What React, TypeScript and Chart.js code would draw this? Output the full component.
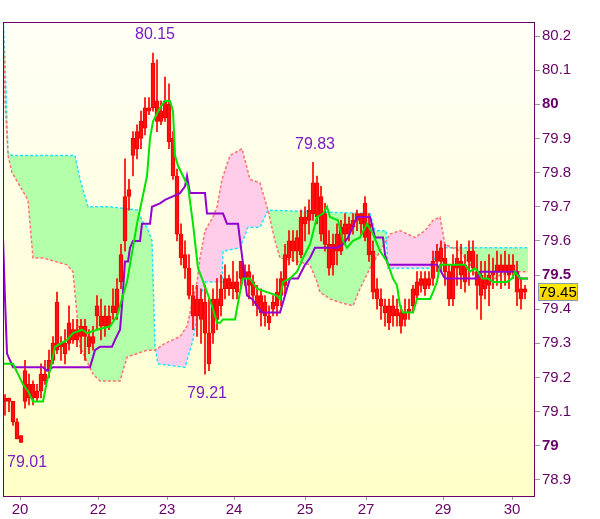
import React, { useEffect, useRef } from 'react';
import { Chart, registerables } from 'chart.js';

Chart.register(...registerables);

// ---- price bars (one per bar index) ----
const opens = [79.13,79.14,79.13,79.07,79.03, 79.13,79.18,79.14,79.16,79.16, 79.19,79.22,79.25,79.28,79.30, 79.30,79.30,79.34,79.31,79.35, 79.32,79.32,79.30,79.38,79.38, 79.35,79.38,79.39,79.39,79.48, 79.60,79.73,79.85,79.87,79.90, 79.93,79.98,79.99,80.01,79.95, 79.96,80.00,79.90,79.79,79.62, 79.56,79.52,79.44,79.38,79.43, 79.42,79.33,79.33,79.43,79.41, 79.46,79.49,79.46,79.48,79.49, 79.51,79.51,79.48,79.44,79.44, 79.42,79.38,79.40,79.41,79.44, 79.47,79.55,79.60,79.57,79.56, 79.65,79.66,79.68,79.77,79.73, 79.68,79.59,79.53,79.57,79.57, 79.62,79.65,79.64,79.66,79.68, 79.61,79.65,79.57,79.46,79.43, 79.41,79.36,79.41,79.38,79.39, 79.37,79.39,79.41,79.44,79.47, 79.49,79.47,79.49,79.54,79.54, 79.55,79.51,79.43,79.55,79.50, 79.53,79.54,79.57,79.51,79.50, 79.46,79.47,79.50,79.51,79.53, 79.51,79.53,79.51,79.51,79.46, 79.46];
const highs = [79.15,79.14,79.13,79.08,79.03, 79.25,79.21,79.19,79.18,79.24, 79.25,79.28,79.32,79.45,79.32, 79.34,79.41,79.37,79.37,79.37, 79.37,79.34,79.35,79.44,79.43, 79.41,79.41,79.46,79.49,79.59, 79.84,79.78,79.92,79.94,79.98, 80.02,80.02,80.15,80.13,80.01, 80.08,80.06,79.92,79.81,79.65, 79.60,79.56,79.47,79.47,79.46, 79.47,79.43,79.46,79.49,79.50, 79.53,79.50,79.54,79.51,79.54, 79.53,79.53,79.50,79.47,79.46, 79.44,79.41,79.44,79.49,79.51, 79.59,79.63,79.63,79.63,79.69, 79.70,79.72,79.83,79.79,79.76, 79.71,79.63,79.62,79.65,79.66, 79.68,79.67,79.68,79.69,79.68, 79.73,79.68,79.60,79.49,79.46, 79.43,79.43,79.44,79.43,79.41, 79.43,79.43,79.47,79.51,79.51, 79.51,79.51,79.57,79.59,79.60, 79.59,79.53,79.56,79.60,79.59, 79.56,79.60,79.60,79.56,79.54, 79.54,79.56,79.55,79.57,79.56, 79.57,79.56,79.56,79.54,79.49, 79.47];
const lows = [79.09,79.10,79.06,79.02,79.01, 79.11,79.12,79.12,79.13,79.14, 79.18,79.20,79.24,79.27,79.25, 79.24,79.28,79.30,79.29,79.27, 79.25,79.27,79.28,79.34,79.31, 79.32,79.34,79.37,79.37,79.46, 79.57,79.69,79.79,79.84,79.87, 79.91,79.97,79.98,79.92,79.94, 79.95,79.87,79.78,79.60,79.53, 79.49,79.43,79.34,79.32,79.30, 79.21,79.22,79.30,79.34,79.38, 79.43,79.44,79.43,79.43,79.46, 79.47,79.43,79.41,79.38,79.35, 79.35,79.34,79.38,79.38,79.41, 79.44,79.53,79.54,79.53,79.55, 79.60,79.62,79.66,79.65,79.60, 79.57,79.50,79.50,79.53,79.56, 79.59,79.60,79.62,79.63,79.62, 79.60,79.54,79.43,79.40,79.37, 79.35,79.34,79.35,79.35,79.33, 79.35,79.37,79.39,79.43,79.45, 79.44,79.46,79.47,79.51,79.51, 79.47,79.41,79.41,79.47,79.46, 79.45,79.47,79.50,79.40,79.37, 79.43,79.41,79.46,79.47,79.46, 79.47,79.46,79.49,79.41,79.40, 79.43];
const closes = [79.14,79.13,79.07,79.02,79.01, 79.22,79.14,79.18,79.14,79.21, 79.21,79.25,79.30,79.42,79.29, 79.27,79.36,79.31,79.34,79.32, 79.35,79.29,79.32,79.41,79.35, 79.38,79.35,79.41,79.46,79.56, 79.73,79.75,79.90,79.92,79.95, 79.99,79.99,80.12,79.95,79.98, 80.01,79.89,79.79,79.62,79.55, 79.52,79.44,79.38,79.43,79.37, 79.33,79.24,79.43,79.37,79.46, 79.49,79.46,79.48,79.45,79.54, 79.49,79.47,79.44,79.41,79.39, 79.38,79.36,79.42,79.45,79.49, 79.56,79.60,79.57,79.61,79.67, 79.67,79.69,79.77,79.67,79.62, 79.59,79.52,79.59,79.62,79.64, 79.65,79.62,79.66,79.68,79.65, 79.71,79.56,79.45,79.43,79.41, 79.39,79.41,79.38,79.40,79.35, 79.39,79.40,79.46,79.48,79.49, 79.46,79.49,79.54,79.57,79.58, 79.51,79.43,79.53,79.52,79.54, 79.48,79.57,79.52,79.47,79.44, 79.49,79.50,79.51,79.53,79.51, 79.53,79.50,79.53,79.45,79.43, 79.45];

// ---- Ichimoku lines: [bar position, price] ----
const senkouA = [[-0.5,80.26],[0,80.13],[0.75,79.86],[1.75,79.85],[17.5,79.85],[18.75,79.78],[20.75,79.70],[26.25,79.70],[33.25,79.69],[34.25,79.66],[35.5,79.64],[36.75,79.60],[37.5,79.29],[38.25,79.24],[45,79.23],[47,79.31],[48.75,79.43],[50,79.48],[54.25,79.48],[54.5,79.57],[58.75,79.58],[60.75,79.64],[63.75,79.64],[65.75,79.69],[91.25,79.68],[92.5,79.63],[95.25,79.63],[95.75,79.52],[107,79.52],[108,79.58],[130.75,79.58]];
const senkouB = [[-0.5,80.26],[0,80.01],[0.75,79.85],[1.75,79.80],[3.75,79.76],[5.75,79.72],[7,79.55],[9.5,79.55],[15.5,79.53],[17,79.51],[18.75,79.29],[22,79.21],[23.75,79.19],[28.75,79.19],[30.5,79.26],[35.5,79.28],[37.5,79.28],[40,79.30],[43.75,79.32],[45.5,79.35],[47,79.43],[48,79.48],[48.75,79.55],[50,79.63],[52,79.67],[53,79.70],[54.25,79.78],[56.25,79.85],[59.25,79.87],[61.25,79.78],[63.75,79.77],[65.75,79.69],[67.5,79.60],[68.75,79.55],[73,79.54],[76.25,79.53],[78,79.48],[78.75,79.45],[81.25,79.43],[83.75,79.42],[87,79.41],[88.75,79.46],[91.25,79.52],[93.75,79.57],[96.25,79.62],[98.75,79.63],[102.5,79.61],[105,79.63],[107,79.66],[108.75,79.67],[110,79.59],[113.75,79.57],[117,79.52],[118.75,79.47],[121.25,79.48],[123.75,79.50],[127.5,79.51],[130.75,79.51]];
const tenkan = [[-0.5,79.24],[2,79.24],[3.25,79.21],[4.5,79.18],[5.75,79.16],[7,79.13],[9.5,79.13],[10.5,79.19],[11.25,79.22],[12.5,79.29],[15.5,79.31],[17,79.33],[19.25,79.34],[20.5,79.33],[23,79.34],[26.25,79.35],[28,79.38],[30.5,79.48],[33,79.65],[35.5,79.79],[36.25,79.90],[37,79.95],[38.75,79.99],[40,80.01],[41.25,80.01],[42,79.98],[42.5,79.85],[43.25,79.82],[44.5,79.79],[45.75,79.76],[47,79.65],[48.25,79.52],[49.25,79.49],[51.75,79.41],[53,79.36],[53.75,79.36],[54.5,79.37],[57.5,79.37],[58.75,79.45],[59.5,79.49],[61.25,79.49],[63,79.46],[65.5,79.45],[68,79.44],[68.75,79.43],[69.5,79.48],[71.25,79.49],[73,79.51],[74.5,79.55],[76.25,79.59],[78,79.67],[79.5,79.68],[80.5,79.70],[81.25,79.67],[83.25,79.66],[84.5,79.60],[85.5,79.58],[87,79.60],[88.75,79.61],[90.5,79.65],[92,79.62],[93.75,79.57],[95.5,79.54],[97,79.49],[98,79.47],[98.75,79.41],[99.5,79.39],[102,79.39],[103,79.43],[106.25,79.43],[107,79.45],[108,79.48],[108.75,79.53],[110.5,79.53],[115,79.53],[116.25,79.51],[117.5,79.52],[118.25,79.51],[119.25,79.49],[120.75,79.49],[122,79.48],[125.5,79.48],[126.75,79.49],[127.5,79.51],[128.75,79.49],[130.75,79.49]];
const kijun = [[-0.5,79.61],[0,79.43],[0.5,79.27],[1.25,79.25],[2,79.23],[9.5,79.23],[10.5,79.22],[12,79.23],[21.25,79.23],[22.5,79.28],[23.75,79.29],[26.75,79.29],[27.5,79.31],[28.75,79.34],[29.25,79.41],[30,79.54],[30.75,79.54],[31.25,79.58],[32,79.60],[33.75,79.60],[34.25,79.65],[36.25,79.65],[36.75,79.70],[38.75,79.71],[40,79.72],[43.75,79.74],[45,79.76],[45.5,79.79],[46.25,79.74],[50,79.74],[50.5,79.68],[54.5,79.68],[55.5,79.65],[58.25,79.65],[60.5,79.44],[61.75,79.43],[64.25,79.39],[68.75,79.39],[71.25,79.49],[73.25,79.49],[75,79.53],[76.25,79.55],[77.5,79.58],[83,79.58],[84.5,79.59],[85.75,79.61],[88,79.67],[91.25,79.67],[92.5,79.61],[94.5,79.61],[95,79.56],[95.75,79.53],[108,79.53],[110,79.49],[118,79.49],[118.75,79.51],[128,79.51],[128.75,79.49],[130.75,79.49]];

// ---- axes ----
const xTickPositions = [3.75, 23.25, 40.5, 57.25, 75, 90.25, 109.5, 126.75];
const xTickLabels = ['20', '22', '23', '24', '25', '27', '29', '30'];
const yTickValues = [78.9, 79.0, 79.1, 79.2, 79.3, 79.4, 79.5, 79.6, 79.7, 79.8, 79.9, 80.0, 80.1, 80.2];

// ---- high / low annotations: bar index + which extreme ----
const markIndex = [37, 77, 50, 4];
const markKind = ['high', 'high', 'low', 'low'];

const FONT = '"Liberation Sans", Arial, sans-serif';

export default function App() {
  const ref = useRef<HTMLCanvasElement>(null);

  useEffect(() => {
    const canvas = ref.current!;
    const idx = closes.map((_, i) => i);
    const pts = (arr: number[][]) => arr.map(([x, y]) => ({ x, y }));

    const bgPlugin = {
      id: 'bgPlugin',
      beforeDraw(chart: any) {
        const { ctx, chartArea: a } = chart;
        ctx.save();
        ctx.fillStyle = '#ffffff';
        ctx.fillRect(0, 0, chart.width, chart.height);
        const g = ctx.createLinearGradient(0, a.top, 0, a.bottom);
        g.addColorStop(0, '#fffff6');
        g.addColorStop(1, '#ffffc8');
        ctx.fillStyle = g;
        ctx.fillRect(a.left, a.top, a.right - a.left, a.bottom - a.top);
        ctx.restore();
      },
      afterDraw(chart: any) {
        const { ctx, chartArea: a, scales } = chart;
        const xs = scales.x, ys = scales.y;
        ctx.save();
        // frame
        ctx.strokeStyle = '#660066';
        ctx.lineWidth = 1;
        ctx.strokeRect(Math.round(a.left) + 0.5, Math.round(a.top) + 0.5, Math.round(a.right - a.left) - 1, Math.round(a.bottom - a.top));
        // high/low labels
        ctx.font = '16px ' + FONT;
        ctx.fillStyle = '#7a1cc8';
        ctx.textBaseline = 'middle';
        ctx.textAlign = 'left';
        markIndex.forEach((bi, k) => {
          const isHigh = markKind[k] === 'high';
          const v = isHigh ? highs[bi] : lows[bi];
          const txt = v.toFixed(2);
          const w = ctx.measureText(txt).width;
          const px = xs.getPixelForValue(bi);
          const py = ys.getPixelForValue(v);
          let left = px - w / 2 + 2;
          if (left < a.left + 4) left = a.left + 4;
          const ty = isHigh ? py - 18 : py + 20;
          ctx.fillText(txt, left, ty);
        });
        // last price box
        const last = closes[closes.length - 1];
        const ly = Math.round(ys.getPixelForValue(last));
        const bx = a.right + 3, bw = 40, bh = 18;
        const by = ly - 9;
        const g = ctx.createLinearGradient(0, by, 0, by + bh);
        g.addColorStop(0, '#fff000');
        g.addColorStop(1, '#ffcc00');
        ctx.fillStyle = g;
        ctx.fillRect(bx, by, bw, bh);
        ctx.strokeStyle = '#8c9cb0';
        ctx.strokeRect(bx + 0.5, by + 0.5, bw - 1, bh - 1);
        ctx.fillStyle = '#000000';
        ctx.font = '15px ' + FONT;
        ctx.textAlign = 'center';
        ctx.fillText(last.toFixed(2), bx + bw / 2, by + bh / 2 + 1);
        ctx.restore();
      },
    };

    const chart = new Chart(canvas, {
      type: 'line',
      data: {
        datasets: [
          {
            label: 'Senkou A',
            data: pts(senkouA),
            borderColor: '#22e4ff',
            borderWidth: 1.5,
            borderDash: [3, 2],
            pointRadius: 0,
            tension: 0,
            fill: { target: '+1', above: '#b4ffaa', below: '#ffcdea' },
            order: 6,
          },
          {
            label: 'Senkou B',
            data: pts(senkouB),
            borderColor: '#ff7272',
            borderWidth: 1.5,
            borderDash: [3, 2],
            pointRadius: 0,
            tension: 0,
            fill: false,
            order: 5,
          },
          {
            type: 'bar',
            label: 'wick',
            data: idx.map((i) => ({ x: i, y: [lows[i], highs[i]] })),
            backgroundColor: '#ff0000',
            barThickness: 1,
            grouped: false,
            order: 4,
          } as any,
          {
            type: 'bar',
            label: 'body',
            data: idx.map((i) => ({ x: i, y: [opens[i], closes[i]] })),
            backgroundColor: '#ff1010',
            borderColor: '#ee0000',
            borderWidth: 1,
            borderSkipped: false,
            barThickness: 4,
            minBarLength: 2,
            grouped: false,
            order: 3,
          } as any,
          {
            label: 'Kijun',
            data: pts(kijun),
            borderColor: '#9400d0',
            borderWidth: 2,
            pointRadius: 0,
            tension: 0,
            fill: false,
            order: 2,
          },
          {
            label: 'Tenkan',
            data: pts(tenkan),
            borderColor: '#00e400',
            borderWidth: 2,
            pointRadius: 0,
            tension: 0,
            fill: false,
            order: 1,
          },
        ],
      } as any,
      options: {
        responsive: false,
        animation: false,
        devicePixelRatio: 1,
        layout: { padding: { left: 3, top: 22, right: 0, bottom: 0 } },
        plugins: { legend: { display: false }, tooltip: { enabled: false } },
        scales: {
          x: {
            type: 'linear',
            min: -0.5,
            max: 132.5,
            offset: false,
            afterBuildTicks: (s: any) => {
              s.ticks = xTickPositions.map((v) => ({ value: v }));
            },
            afterFit: (s: any) => {
              s.height = 23;
            },
            ticks: {
              autoSkip: false,
              maxRotation: 0,
              padding: 1,
              color: '#660066',
              font: { family: FONT, size: 15 },
              callback: (_v: any, i: number) => xTickLabels[i],
            },
            grid: { offset: false, drawOnChartArea: false, tickLength: 4, color: '#9a9a9a' },
            border: { display: false },
          },
          y: {
            type: 'linear',
            position: 'right',
            beginAtZero: false,
            min: 78.853,
            max: 80.241,
            afterBuildTicks: (s: any) => {
              s.ticks = yTickValues.map((v) => ({ value: v }));
            },
            afterFit: (s: any) => {
              s.width = 65;
            },
            ticks: {
              padding: 2,
              color: '#660066',
              font: (c: any) => {
                const v = c.tick ? c.tick.value : 0;
                const half = Math.abs(v * 2 - Math.round(v * 2)) < 1e-6;
                return { family: FONT, size: 15, weight: half ? 'bold' : 'normal' };
              },
              callback: (v: any) => String(Number(Number(v).toFixed(1))),
            },
            grid: { drawOnChartArea: false, tickLength: 5, color: '#9a9a9a' },
            border: { display: false },
          },
        },
      } as any,
      plugins: [bgPlugin],
    });
    return () => chart.destroy();
  }, []);

  return (
    <div style={{ position: 'fixed', left: 0, top: 0, width: 600, height: 519, background: '#fff' }}>
      <canvas ref={ref} width={600} height={519} style={{ display: 'block', width: 600, height: 519 }} />
    </div>
  );
}
